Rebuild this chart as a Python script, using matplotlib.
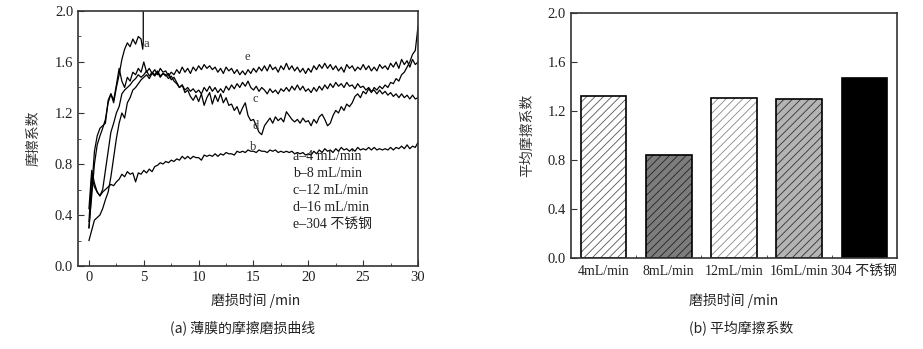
import numpy as np
import matplotlib
matplotlib.use("Agg")
import matplotlib.pyplot as plt
from matplotlib.ticker import MultipleLocator, FixedLocator

plt.rcParams['font.family'] = ['Liberation Serif', 'Noto Sans CJK SC']
plt.rcParams['hatch.linewidth'] = 0.6
plt.rcParams['axes.unicode_minus'] = False

CJK = ['Noto Sans CJK SC', 'DejaVu Sans']
SERIF = ['Liberation Serif', 'Noto Sans CJK SC']

# ---- (a) friction curves, every 0.25 min ----
time = np.arange(0, 30.01, 0.25)

a_time = [0, 0.25, 0.5, 0.75, 1, 1.25, 1.5, 1.75, 2, 2.25, 2.5, 2.75,
          3, 3.25, 3.5, 3.75, 4, 4.25, 4.5, 4.75, 4.9, 4.95, 4.95]
a_cof = [0.30, 0.60, 0.90, 1.02, 1.08, 1.10, 1.12, 1.30, 1.35, 1.28, 1.40, 1.50,
         1.62, 1.70, 1.75, 1.72, 1.78, 1.74, 1.80, 1.78, 1.70, 1.75, 2.10]

b_cof = [0.35, 0.70, 0.62, 0.58, 0.55, 0.58, 0.60, 0.62, 0.64, 0.63, 0.66, 0.68,
         0.72, 0.70, 0.74, 0.72, 0.73, 0.66, 0.73, 0.72, 0.75, 0.73, 0.76, 0.74,
         0.78, 0.79, 0.81, 0.80, 0.82, 0.81, 0.83, 0.82, 0.84, 0.83, 0.86, 0.84,
         0.86, 0.84, 0.86, 0.85, 0.85, 0.83, 0.87, 0.86, 0.87, 0.86, 0.88, 0.86,
         0.88, 0.87, 0.89, 0.88, 0.88, 0.87, 0.90, 0.89, 0.90, 0.89, 0.91, 0.90,
         0.90, 0.89, 0.91, 0.90, 0.90, 0.89, 0.91, 0.90, 0.91, 0.89, 0.90, 0.89,
         0.90, 0.89, 0.90, 0.88, 0.89, 0.88, 0.89, 0.87, 0.88, 0.87, 0.90, 0.88,
         0.91, 0.89, 0.92, 0.90, 0.91, 0.89, 0.92, 0.90, 0.93, 0.91, 0.92, 0.90,
         0.92, 0.90, 0.93, 0.91, 0.92, 0.91, 0.93, 0.91, 0.93, 0.91, 0.92, 0.91,
         0.92, 0.91, 0.93, 0.91, 0.93, 0.92, 0.94, 0.92, 0.95, 0.92, 0.94, 0.93,
         0.97]

c_cof = [0.20, 0.28, 0.36, 0.38, 0.40, 0.45, 0.52, 0.58, 0.70, 0.85, 1.00, 1.12,
         1.20, 1.16, 1.28, 1.32, 1.38, 1.40, 1.43, 1.46, 1.48, 1.50, 1.47, 1.51,
         1.49, 1.52, 1.48, 1.51, 1.50, 1.47, 1.49, 1.45, 1.43, 1.40, 1.42, 1.38,
         1.40, 1.37, 1.39, 1.36, 1.38, 1.35, 1.40, 1.37, 1.41, 1.37, 1.40, 1.36,
         1.39, 1.36, 1.41, 1.38, 1.42, 1.39, 1.43, 1.40, 1.44, 1.41, 1.45, 1.40,
         1.38, 1.41, 1.37, 1.40, 1.38, 1.35, 1.39, 1.36, 1.38, 1.35, 1.39, 1.37,
         1.40, 1.37, 1.41, 1.38, 1.42, 1.38, 1.41, 1.37, 1.39, 1.36, 1.40, 1.37,
         1.41, 1.38, 1.42, 1.39, 1.43, 1.40, 1.44, 1.41, 1.43, 1.40, 1.44, 1.41,
         1.42, 1.39, 1.43, 1.40, 1.41, 1.38, 1.40, 1.37, 1.38, 1.35, 1.38, 1.35,
         1.37, 1.34, 1.36, 1.33, 1.35, 1.32, 1.35, 1.32, 1.34, 1.31, 1.34, 1.31,
         1.32]

d_cof = [0.45, 0.75, 0.65, 0.58, 0.55, 0.60, 0.75, 0.90, 1.05, 1.12, 1.20, 1.25,
         1.35, 1.38, 1.40, 1.42, 1.45, 1.47, 1.50, 1.48, 1.50, 1.53, 1.49, 1.52,
         1.50, 1.53, 1.49, 1.51, 1.49, 1.51, 1.46, 1.48, 1.44, 1.40, 1.42, 1.36,
         1.38, 1.33, 1.30, 1.34, 1.29, 1.35, 1.26, 1.32, 1.36, 1.27, 1.34, 1.29,
         1.35, 1.28, 1.32, 1.26, 1.27, 1.22, 1.25, 1.19, 1.24, 1.28, 1.18, 1.14,
         1.15, 1.10, 1.05, 1.03, 1.10, 1.13, 1.16, 1.12, 1.17, 1.14, 1.16, 1.13,
         1.21, 1.18, 1.15, 1.13, 1.15, 1.12, 1.16, 1.13, 1.14, 1.10, 1.15, 1.12,
         1.17, 1.19, 1.15, 1.10, 1.12, 1.18, 1.22, 1.20, 1.25, 1.22, 1.27, 1.25,
         1.28, 1.33, 1.35, 1.32, 1.37, 1.35, 1.39, 1.36, 1.40, 1.38, 1.41, 1.39,
         1.42, 1.40, 1.44, 1.43, 1.47, 1.45, 1.50, 1.52, 1.56, 1.60, 1.66, 1.69,
         1.88]

e_cof = [0.30, 0.55, 0.80, 0.95, 1.02, 1.08, 1.15, 1.28, 1.35, 1.30, 1.42, 1.55,
         1.45, 1.40, 1.48, 1.45, 1.52, 1.50, 1.55, 1.52, 1.60, 1.52, 1.55, 1.51,
         1.54, 1.50, 1.55, 1.52, 1.53, 1.49, 1.52, 1.50, 1.54, 1.51, 1.56, 1.52,
         1.55, 1.51, 1.56, 1.53, 1.57, 1.54, 1.58, 1.55, 1.57, 1.54, 1.56, 1.52,
         1.55, 1.51, 1.56, 1.53, 1.55, 1.51, 1.54, 1.50, 1.53, 1.50, 1.54, 1.51,
         1.55, 1.52, 1.56, 1.53, 1.57, 1.53, 1.58, 1.54, 1.56, 1.52, 1.57, 1.54,
         1.59, 1.54, 1.57, 1.53, 1.56, 1.52, 1.55, 1.51, 1.55, 1.52, 1.57, 1.54,
         1.58, 1.55, 1.59, 1.55, 1.58, 1.54, 1.57, 1.53, 1.56, 1.52, 1.58, 1.55,
         1.57, 1.53, 1.56, 1.54, 1.58, 1.54, 1.57, 1.53, 1.56, 1.53, 1.58, 1.55,
         1.57, 1.54, 1.59, 1.56, 1.60, 1.55, 1.62, 1.58, 1.61, 1.56, 1.62, 1.58,
         1.60]

legend_lines = ['a\u20134 mL/min', 'b\u20138 mL/min', 'c\u201312 mL/min',
                'd\u201316 mL/min', 'e\u2013304 不锈钢']

# ---- (b) average friction coefficient ----
bar_labels = ['4mL/min', '8mL/min', '12mL/min', '16mL/min', '304 不锈钢']
bar_values = [1.32, 0.84, 1.31, 1.30, 1.47]
bar_faces = ['white', '#7c7c7c', 'white', '#b4b4b4', 'black']
bar_hatch_colors = ['#555555', '#222222', '#888888', '#333333', 'black']

fig = plt.figure(figsize=(9.23, 3.49), dpi=100)
axA = fig.add_axes([0.0845, 0.2378, 0.3684, 0.7307])
axB = fig.add_axes([0.6186, 0.2607, 0.3532, 0.7020])

frame = '#333333'
for ax in (axA, axB):
    for s in ax.spines.values():
        s.set_color(frame)
        s.set_linewidth(1.2)
    ax.tick_params(which='both', direction='in', colors=frame, labelcolor='#222222',
                   labelsize=10.5)
    ax.tick_params(which='major', length=4)
    ax.tick_params(which='minor', length=2.5)

# left panel
lw = 0.9
axA.plot(a_time, a_cof, color='black', lw=lw)
axA.plot(time, b_cof, color='black', lw=lw)
axA.plot(time, c_cof, color='black', lw=lw)
axA.plot(time, d_cof, color='black', lw=lw)
axA.plot(time, e_cof, color='black', lw=lw)
axA.set_xlim(-1, 30)
axA.set_ylim(0, 2.0)
axA.xaxis.set_major_locator(FixedLocator([0, 5, 10, 15, 20, 25, 30]))
axA.xaxis.set_minor_locator(FixedLocator([2.5, 7.5, 12.5, 17.5, 22.5, 27.5]))
axA.yaxis.set_major_locator(MultipleLocator(0.4))
axA.yaxis.set_minor_locator(MultipleLocator(0.2))
axA.yaxis.set_major_formatter(plt.FormatStrFormatter('%.1f'))

for txt, x, y in [('a', 5.0, 1.74), ('e', 14.2, 1.64), ('c', 14.9, 1.31),
                  ('d', 14.9, 1.10), ('b', 14.7, 0.93)]:
    axA.text(x, y, txt, fontsize=9, color='#333333', ha='left', va='center')

for i, line in enumerate(legend_lines):
    axA.text(18.6, 0.855 - i * 0.133, line, fontsize=10, color='#222222',
             family=SERIF, ha='left', va='center')

axA.set_ylabel('摩擦系数', family=CJK, fontsize=10, color='#333333', labelpad=10)

# right panel
pos = np.arange(1, len(bar_values) + 1)
for p, v, fc, hc in zip(pos, bar_values, bar_faces, bar_hatch_colors):
    hatch = '////' if fc != 'black' else None
    axB.bar(p, v, width=0.70, color=fc, edgecolor=hc, hatch=hatch, linewidth=0)
    axB.bar(p, v, width=0.70, fill=False, edgecolor='black', linewidth=1.2)
axB.set_xlim(0.5, 5.5)
axB.set_ylim(0, 2.0)
axB.set_xticks(pos)
axB.set_xticklabels(bar_labels, family=SERIF, fontsize=10)
axB.tick_params(axis='x', which='major', length=0, pad=5)
axB.xaxis.set_minor_locator(FixedLocator([1.5, 2.5, 3.5, 4.5]))
axB.yaxis.set_major_locator(MultipleLocator(0.4))
axB.yaxis.set_major_formatter(plt.FormatStrFormatter('%.1f'))
axB.set_ylabel('平均摩擦系数', family=CJK, fontsize=10, color='#333333', labelpad=10)

# x labels and captions as figure text
fig.text(256 / 923, 1 - 301 / 349, '磨损时间 /min', family=CJK, fontsize=10,
         ha='center', va='center', color='#222222')
fig.text(734 / 923, 1 - 301 / 349, '磨损时间 /min', family=CJK, fontsize=10,
         ha='center', va='center', color='#222222')
fig.text(243 / 923, 1 - 328 / 349, '(a) 薄膜的摩擦磨损曲线', family=CJK, fontsize=10,
         ha='center', va='center', color='#222222')
fig.text(741 / 923, 1 - 328 / 349, '(b) 平均摩擦系数', family=CJK, fontsize=10,
         ha='center', va='center', color='#222222')

fig.savefig('out.png', dpi=100)
